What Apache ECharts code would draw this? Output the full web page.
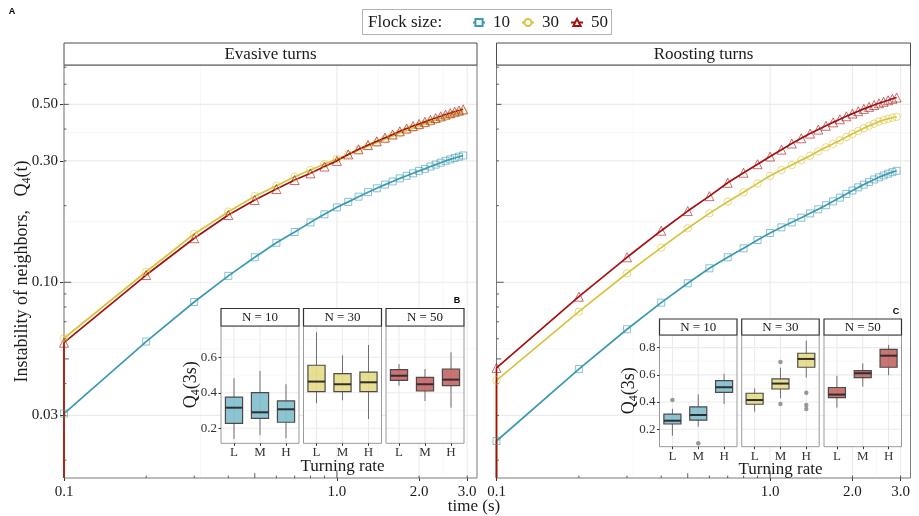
<!DOCTYPE html>
<html>
<head>
<meta charset="utf-8">
<script src="https://cdn.jsdelivr.net/npm/echarts@6.0.0/dist/echarts.min.js"></script>
<style>
html,body{margin:0;padding:0;background:#fff;}
#chart{width:919px;height:516px;}
</style>
</head>
<body>
<div id="chart"></div>
<script>
// ---------------- data ----------------
const times = [0.1,0.2,0.3,0.4,0.5,0.6,0.7,0.8,0.9,1.0,1.1,1.2,1.3,1.4,1.5,1.6,1.7,1.8,1.9,2.0,2.1,2.2,2.3,2.4,2.5,2.6,2.7,2.8,2.9];
const flockSizes = ['10','30','50'];
const panelTitles = ['Evasive turns','Roosting turns'];

const evasive10 = [0.0305,0.0585,0.0837,0.1060,0.1254,0.1430,0.1576,0.1720,0.1850,0.1970,0.2070,0.2170,0.2260,0.2340,0.2420,0.2490,0.2560,0.2620,0.2680,0.2740,0.2790,0.2850,0.2900,0.2950,0.3000,0.3040,0.3080,0.3115,0.3150];
const evasive30 = [0.0603,0.1100,0.1548,0.1894,0.2180,0.2395,0.2600,0.2760,0.2915,0.3050,0.3180,0.3310,0.3430,0.3540,0.3650,0.3760,0.3860,0.3950,0.4040,0.4120,0.4200,0.4270,0.4340,0.4410,0.4470,0.4530,0.4590,0.4640,0.4690];
const evasive50 = [0.0579,0.1068,0.1490,0.1838,0.2105,0.2325,0.2522,0.2680,0.2850,0.3000,0.3180,0.3330,0.3460,0.3580,0.3700,0.3810,0.3920,0.4020,0.4110,0.4190,0.4270,0.4350,0.4420,0.4490,0.4560,0.4620,0.4680,0.4730,0.4780];
const roosting10 = [0.0238,0.0456,0.0654,0.0832,0.0991,0.1135,0.1254,0.1360,0.1466,0.1562,0.1644,0.1720,0.1794,0.1866,0.1935,0.2008,0.2080,0.2152,0.2225,0.2295,0.2360,0.2420,0.2480,0.2535,0.2585,0.2630,0.2672,0.2708,0.2742];
const roosting30 = [0.0412,0.0767,0.1085,0.1368,0.1630,0.1866,0.2073,0.2257,0.2447,0.2620,0.2760,0.2890,0.3020,0.3143,0.3270,0.3390,0.3500,0.3610,0.3720,0.3830,0.3930,0.4030,0.4120,0.4200,0.4280,0.4340,0.4390,0.4430,0.4470];
const roosting50 = [0.0461,0.0878,0.1254,0.1595,0.1905,0.2180,0.2460,0.2695,0.2910,0.3120,0.3320,0.3510,0.3680,0.3840,0.3980,0.4120,0.4250,0.4370,0.4490,0.4600,0.4700,0.4800,0.4890,0.4970,0.5050,0.5120,0.5190,0.5260,0.5320];

// inset boxplots: [min, Q1, median, Q3, max] for L, M, H
const turningRates = ['L','M','H'];
const boxTitles = ['N = 10','N = 30','N = 50'];
const boxEvasive10 = [[0.140,0.228,0.316,0.376,0.482],[0.162,0.256,0.290,0.401,0.523],[0.144,0.234,0.307,0.354,0.448]];
const boxEvasive30 = [[0.341,0.406,0.463,0.555,0.741],[0.358,0.406,0.448,0.508,0.611],[0.252,0.406,0.459,0.516,0.669]];
const boxEvasive50 = [[0.440,0.470,0.496,0.530,0.561],[0.354,0.410,0.448,0.487,0.534],[0.316,0.440,0.474,0.534,0.628]];
const boxRoosting10 = [[0.153,0.239,0.263,0.311,0.350],[0.219,0.268,0.305,0.364,0.457],[0.386,0.472,0.509,0.557,0.607]];
const boxRoosting30 = [[0.329,0.384,0.415,0.465,0.502],[0.428,0.496,0.536,0.570,0.653],[0.579,0.656,0.717,0.759,0.852]];
const boxRoosting50 = [[0.359,0.432,0.455,0.507,0.594],[0.513,0.579,0.612,0.631,0.685],[0.597,0.656,0.741,0.788,0.820]];
const outRoosting10 = [['L',0.415],['M',0.097]];
const outRoosting30 = [['M',0.695],['M',0.386],['H',0.469],['H',0.379],['H',0.349]];
const outRoosting50 = [];

// tick labels / breaks
const xTickValues = [0.1,1,2,3];
const yTickValues = [0.03,0.1,0.3,0.5];
const xMinorGrid = [0.316,1.414,2.449];
const yMinorGrid = [0.0548,0.1732,0.3873];
const xLogTicks = [0.1,0.2,0.3,0.4,0.5,0.6,0.7,0.8,0.9,1,2,3];
const yLogTicks = [0.02,0.03,0.04,0.05,0.06,0.07,0.08,0.09,0.1,0.2,0.3,0.4,0.5,0.6,0.7];
const insetBTicks = [0.2,0.4,0.6];
const insetBMinor = [0.3,0.5,0.7];
const insetCTicks = [0.2,0.4,0.6,0.8];
const insetCMinor = [0.1,0.3,0.5,0.7];

// ---------------- styling / layout ----------------
const SERIF = "'Liberation Serif','Times New Roman',serif";
const SANS = "'Liberation Sans',Arial,sans-serif";
const TXT = '#1A1A1A';
const COLORS = ['#3B9AB2','#D7C43B','#A50F0F'];
const FILLS = ['rgba(59,154,178,0.58)','rgba(215,196,59,0.55)','rgba(165,15,15,0.58)'];
const SYMBOLS = ['rect','circle','triangle'];
const EMPTY = ['emptyRect','emptyCircle','emptyTriangle'];
const SYMSIZE = [7,7.5,9];

const X_MIN = 0.1, X_MAX = 3.26, Y_MIN = 0.01703, Y_MAX = 0.714;
const mainRects = [{left:64,top:65,width:413,height:413},{left:496.5,top:65,width:414,height:413}];
const panelSeries = [[evasive10,evasive30,evasive50],[roosting10,roosting30,roosting50]];

const insetDefs = [
  {lefts:[221,303.5,386], top:326, width:78, height:117.3, yMin:0.1155, yMax:0.776,
   major:insetBTicks, minor:insetBMinor, boxes:[boxEvasive10,boxEvasive30,boxEvasive50],
   outliers:[[],[],[]], tag:'B', tagPos:[457,301], stripTop:308.5, stripH:17.5, nameGap:19, titleY:467},
  {lefts:[659.5,741.7,824], top:335, width:77.5, height:111.7, yMin:0.072, yMax:0.893,
   major:insetCTicks, minor:insetCMinor, boxes:[boxRoosting10,boxRoosting30,boxRoosting50],
   outliers:[outRoosting10,outRoosting30,outRoosting50], tag:'C', tagPos:[896,312], stripTop:319, stripH:16, nameGap:20, titleY:470}
];

function gridLineSeries(gi, xMajor, xMinor, yMajor, yMinor, xRef, yRef, z) {
  const data = [];
  xMajor.forEach(v => data.push([v, yRef, 0, 1]));
  xMinor.forEach(v => data.push([v, yRef, 0, 0]));
  yMajor.forEach(v => data.push([xRef, v, 1, 1]));
  yMinor.forEach(v => data.push([xRef, v, 1, 0]));
  return {
    type:'custom', xAxisIndex:gi, yAxisIndex:gi, z:z, silent:true, data:data,
    renderItem(params, api) {
      const cs = params.coordSys;
      const p = api.coord([api.value(0), api.value(1)]);
      const vert = api.value(2) === 0;
      const major = api.value(3) === 1;
      const shape = vert ? {x1:p[0], y1:cs.y, x2:p[0], y2:cs.y+cs.height}
                         : {x1:cs.x, y1:p[1], x2:cs.x+cs.width, y2:p[1]};
      return {type:'line', shape:shape, style:{stroke: major ? '#EBEBEB' : '#F3F3F3', lineWidth: major ? 1.1 : 0.7}};
    }
  };
}

function tickLen(v) {
  const m = Math.round(v / Math.pow(10, Math.floor(Math.log10(v) + 1e-9)));
  return m === 1 ? 7.2 : (m === 5 ? 4.8 : 2.4);
}

function logTickSeries(gi) {
  const data = [];
  xLogTicks.forEach(v => data.push([v, Y_MIN, 0]));
  yLogTicks.forEach(v => data.push([X_MIN, v, 1]));
  return {
    type:'custom', xAxisIndex:gi, yAxisIndex:gi, z:3, silent:true, data:data,
    renderItem(params, api) {
      const cs = params.coordSys;
      const kind = api.value(2);
      const v = kind === 0 ? api.value(0) : api.value(1);
      const len = tickLen(v);
      const p = api.coord([api.value(0), api.value(1)]);
      const shape = kind === 0 ? {x1:p[0], y1:cs.y+cs.height, x2:p[0], y2:cs.y+cs.height-len}
                               : {x1:cs.x, y1:p[1], x2:cs.x+len, y2:p[1]};
      return {type:'line', shape:shape, style:{stroke:'#333', lineWidth:0.8}};
    }
  };
}

const grid = [], xAxis = [], yAxis = [], series = [], gEls = [];

// ---------------- main panels ----------------
mainRects.forEach((r, p) => {
  grid.push(Object.assign({show:true, z:2, borderColor:'#7A7A7A', borderWidth:1, backgroundColor:'transparent', outerBoundsMode:'none'}, r));
  xAxis.push({
    type:'log', logBase:10, gridIndex:p, min:X_MIN, max:X_MAX,
    axisLine:{show:false}, splitLine:{show:false}, minorTick:{show:false}, minorSplitLine:{show:false},
    axisTick:{show:true, customValues:xTickValues, length:3, lineStyle:{color:'#333', width:1}},
    axisLabel:{show:true, customValues:xTickValues, formatter:v => Number(v).toFixed(1),
               fontFamily:SERIF, fontSize:15, color:TXT, margin:7}
  });
  yAxis.push({
    type:'log', logBase:10, gridIndex:p, min:Y_MIN, max:Y_MAX,
    axisLine:{show:false}, splitLine:{show:false}, minorTick:{show:false}, minorSplitLine:{show:false},
    axisTick:{show:p === 0, customValues:yTickValues, length:4, lineStyle:{color:'#333', width:1}},
    axisLabel:{show:p === 0, customValues:yTickValues, formatter:v => Number(v).toFixed(2),
               fontFamily:SERIF, fontSize:15, color:TXT, margin:6},
    name: p === 0 ? 'Instability of neighbors,   Q{s|4}(t)' : '',
    nameLocation:'middle', nameRotate:90, nameGap:31, nameMoveOverlap:false,
    nameTextStyle:{fontFamily:SERIF, fontSize:18, color:TXT,
      rich:{s:{fontFamily:SERIF, fontSize:12, color:TXT, padding:[9,0,0,0]}}}
  });
  series.push(gridLineSeries(p, xTickValues, xMinorGrid, yTickValues, yMinorGrid, X_MIN, Y_MIN, 1));
  series.push(logTickSeries(p));
  panelSeries[p].forEach((vals, k) => {
    const pts = times.map((t, i) => [t, vals[i]]);
    series.push({
      type:'line', name:flockSizes[k], xAxisIndex:p, yAxisIndex:p, z:4,
      symbol:EMPTY[k], showSymbol:false, symbolSize:8, silent:true,
      color:COLORS[k], itemStyle:{color:COLORS[k]},
      lineStyle:{color:COLORS[k], width:1.7},
      data:[[times[0], Y_MIN]].concat(pts)
    });
    series.push({
      type:'scatter', name:flockSizes[k] + ' obs', xAxisIndex:p, yAxisIndex:p, z:5, silent:true,
      symbol:SYMBOLS[k], symbolSize:SYMSIZE[k],
      itemStyle:{color:'rgba(0,0,0,0)', borderColor:COLORS[k], borderWidth:1, opacity:0.6},
      data:pts
    });
  });
  // strip header
  gEls.push({type:'rect', z:6, shape:{x:r.left, y:43, width:r.width, height:22},
             style:{fill:'#fff', stroke:'#4D4D4D', lineWidth:1}});
  gEls.push({type:'text', z:7, style:{text:panelTitles[p], x:r.left + r.width/2, y:54.5,
             align:'center', verticalAlign:'middle', textAlign:'center', textVerticalAlign:'middle',
             font:'17px ' + SERIF, fill:TXT}});
});

// ---------------- insets ----------------
insetDefs.forEach((d) => {
  d.lefts.forEach((left, j) => {
    const gi = grid.length;
    grid.push({left:left, top:d.top, width:d.width, height:d.height, show:false, outerBoundsMode:'none'});
    xAxis.push({
      type:'category', gridIndex:gi, data:turningRates, boundaryGap:true, z:16,
      axisLine:{show:false}, splitLine:{show:false},
      axisTick:{show:true, alignWithLabel:true, length:2.5, lineStyle:{color:'#333'}},
      axisLabel:{fontFamily:SERIF, fontSize:13, color:'#333', margin:3}
    });
    yAxis.push({
      type:'value', gridIndex:gi, min:d.yMin, max:d.yMax, z:16,
      axisLine:{show:false}, splitLine:{show:false},
      axisTick:{show:j === 0, customValues:d.major, length:2.5, lineStyle:{color:'#333'}},
      axisLabel:{show:j === 0, customValues:d.major, formatter:v => Number(v).toFixed(1),
                 fontFamily:SERIF, fontSize:13, color:'#333', margin:4},
      name: j === 0 ? 'Q{s|4}(3s)' : '', nameLocation:'middle', nameRotate:90, nameGap:d.nameGap,
      nameMoveOverlap:false,
      nameTextStyle:{fontFamily:SERIF, fontSize:18, color:TXT,
        rich:{s:{fontFamily:SERIF, fontSize:12, color:TXT, padding:[9,0,0,0]}}}
    });
    series.push(gridLineSeries(gi, [0,1,2], [], d.major, d.minor, 0, d.yMin, 11));
    const fill = FILLS[j];
    series.push({
      type:'custom', xAxisIndex:gi, yAxisIndex:gi, z:12, silent:true,
      encode:{x:0, y:[1,2,3,4,5]},
      data:d.boxes[j].map((b, c) => [c].concat(b)),
      renderItem(params, api) {
        const c = api.value(0);
        const pt = [1,2,3,4,5].map(i => api.coord([c, api.value(i)]));
        const bw = api.size([1, 0])[0] * 0.66;
        const x = pt[0][0];
        return {type:'group', children:[
          {type:'line', shape:{x1:x, y1:pt[0][1], x2:x, y2:pt[1][1]}, style:{stroke:'#707070', lineWidth:1}},
          {type:'line', shape:{x1:x, y1:pt[3][1], x2:x, y2:pt[4][1]}, style:{stroke:'#707070', lineWidth:1}},
          {type:'rect', shape:{x:x-bw/2, y:pt[3][1], width:bw, height:pt[1][1]-pt[3][1]},
           style:{fill:fill, stroke:'#4A4A4A', lineWidth:1.2}},
          {type:'line', shape:{x1:x-bw/2, y1:pt[2][1], x2:x+bw/2, y2:pt[2][1]}, style:{stroke:'#2E2E2E', lineWidth:2}}
        ]};
      }
    });
    if (d.outliers[j].length) {
      series.push({
        type:'scatter', xAxisIndex:gi, yAxisIndex:gi, z:13, silent:true,
        symbol:'circle', symbolSize:4.5, itemStyle:{color:'#808080'},
        data:d.outliers[j]
      });
    }
    // panel background, border, strip
    gEls.push({type:'rect', z:10, shape:{x:left, y:d.top, width:d.width, height:d.height},
               style:{fill:'#fff', stroke:null}});
    gEls.push({type:'rect', z:14, shape:{x:left, y:d.top, width:d.width, height:d.height},
               style:{fill:'none', stroke:'#9A9A9A', lineWidth:1}});
    gEls.push({type:'rect', z:15, shape:{x:left, y:d.stripTop, width:d.width, height:d.stripH},
               style:{fill:'#fff', stroke:'#333', lineWidth:1.2}});
    gEls.push({type:'text', z:16, style:{text:boxTitles[j], x:left + d.width/2, y:d.stripTop + d.stripH/2 + 0.5,
               align:'center', verticalAlign:'middle', textAlign:'center', textVerticalAlign:'middle',
               font:'13px ' + SERIF, fill:TXT}});
  });
  const cx = (d.lefts[0] + d.lefts[2] + d.width) / 2;
  gEls.push({type:'text', z:16, style:{text:'Turning rate', x:cx, y:d.titleY,
             align:'center', verticalAlign:'middle', textAlign:'center', textVerticalAlign:'middle',
             font:'17px ' + SERIF, fill:TXT}});
  gEls.push({type:'text', z:16, style:{text:d.tag, x:d.tagPos[0], y:d.tagPos[1],
             align:'center', verticalAlign:'middle', textAlign:'center', textVerticalAlign:'middle',
             font:'bold 9px ' + SANS, fill:'#000'}});
});

// ---------------- titles / legend box ----------------
gEls.push({type:'text', z:16, style:{text:'A', x:12, y:12, align:'center', verticalAlign:'middle',
           textAlign:'center', textVerticalAlign:'middle', font:'bold 9px ' + SANS, fill:'#000'}});
gEls.push({type:'text', z:16, style:{text:'time (s)', x:474, y:507, align:'center', verticalAlign:'middle',
           textAlign:'center', textVerticalAlign:'middle', font:'17px ' + SERIF, fill:TXT}});
gEls.push({type:'rect', z:0, shape:{x:362.5, y:9.5, width:249, height:25},
           style:{fill:'#fff', stroke:'#B3B3B3', lineWidth:1}});
gEls.push({type:'text', z:1, style:{text:'Flock size:', x:368, y:22.5, align:'left', verticalAlign:'middle',
           textAlign:'left', textVerticalAlign:'middle', font:'17px ' + SERIF, fill:TXT}});

const option = {
  animation:false,
  backgroundColor:'#fff',
  grid:grid, xAxis:xAxis, yAxis:yAxis, series:series,
  legend:{show:true, data:flockSizes, left:472, top:14, padding:0, itemWidth:12, itemHeight:9, itemGap:11,
          selectedMode:false, z:5,
          textStyle:{fontFamily:SERIF, fontSize:17, color:TXT, padding:[0,0,0,3]}},
  graphic:{elements:gEls}
};

const chart = echarts.init(document.getElementById('chart'), null, {renderer:'canvas'});
chart.setOption(option);
</script>
</body>
</html>
